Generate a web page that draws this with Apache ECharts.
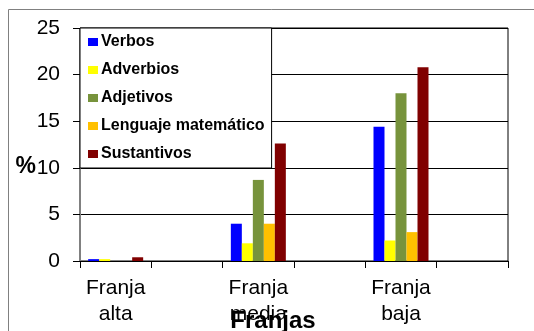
<!DOCTYPE html>
<html lang="es">
<head>
	<meta charset="UTF-8">
	<title>Franjas</title>
	<script src="https://cdn.jsdelivr.net/npm/echarts@6/dist/echarts.min.js"></script>
	<style>
		html,body{margin:0;padding:0;background:#fff;}
		#chart{width:534px;height:331px;}
	</style>
</head>
<body>
	<div id="chart"></div>
<script>
	// categorias (las vacias son huecos del grafico original)
	var categorias = ['Franja\nalta', '', 'Franja\nmedia', '', 'Franja\nbaja', ''];
	var verbos       = [0.2, null, 4.0, null, 14.4, null];
	var adverbios    = [0.2, null, 1.9, null, 2.2, null];
	var adjetivos    = [0,   null, 8.7, null, 18.0, null];
	var lenguajeMat  = [0,   null, 4.0, null, 3.1, null];
	var sustantivos  = [0.4, null, 12.6, null, 20.8, null];
	var yTicks = [0, 5, 10, 15, 20, 25];

	var nombres = ['Verbos', 'Adverbios', 'Adjetivos', 'Lenguaje matemático', 'Sustantivos'];
	var colores = ['#0000FF', '#FFFF00', '#77933C', '#FFC000', '#800000'];
	var datos = [verbos, adverbios, adjetivos, lenguajeMat, sustantivos];

	var myChart = echarts.init(document.getElementById('chart'));

	var series = [];
	for (var i = 0; i < nombres.length; i++) {
		series.push({
			name: nombres[i],
			type: 'bar',
			data: datos[i],
			barWidth: 11,
			barGap: '0%',
			itemStyle: {color: colores[i]},
			animation: false
		});
	}

	var options = {
		animation: false,
		graphic: [{
			type: 'rect',
			shape: {x: 8.5, y: 9.5, width: 600, height: 400},
			style: {fill: 'none', stroke: '#808080', lineWidth: 1},
			z: -1
		}],
		grid: {
			left: 80, right: 26, top: 28, bottom: 70,
			containLabel: false,
			outerBoundsMode: 'none',
			show: true, borderColor: '#000', borderWidth: 1
		},
		legend: {
			orient: 'vertical',
			left: 80, top: 28,
			data: nombres,
			icon: 'rect',
			itemWidth: 10, itemHeight: 8,
			itemGap: 12,
			padding: [6, 7, 6, 8],
			backgroundColor: '#fff',
			borderColor: '#000', borderWidth: 1,
			selectedMode: false,
			textStyle: {fontFamily: 'Liberation Sans', fontSize: 16, fontWeight: 'bold', color: '#000', padding: [0, 0, 0, -2]}
		},
		xAxis: {
			type: 'category',
			data: categorias,
			name: 'Franjas',
			nameLocation: 'middle',
			nameGap: 48,
			nameMoveOverlap: false,
			nameTextStyle: {fontFamily: 'Liberation Sans', fontSize: 24, fontWeight: 'bold', color: '#000', padding: [0, 42, 0, 0]},
			axisLine: {lineStyle: {color: '#000'}},
			axisTick: {show: true, length: 7, lineStyle: {color: '#000'}},
			axisLabel: {fontFamily: 'Liberation Sans', fontSize: 21, color: '#000', lineHeight: 26, margin: 14, interval: 0}
		},
		yAxis: {
			type: 'value',
			min: yTicks[0], max: yTicks[yTicks.length - 1], interval: 5,
			name: '%',
			nameLocation: 'middle',
			nameRotate: 0,
			nameGap: 44,
			nameMoveOverlap: false,
			nameTextStyle: {fontFamily: 'Liberation Sans', fontSize: 23, fontWeight: 'bold', color: '#000', verticalAlign: 'top', padding: [11, 0, 0, 0]},
			axisLine: {show: true, lineStyle: {color: '#808080'}},
			axisTick: {show: true, length: 7, lineStyle: {color: '#000'}},
			axisLabel: {fontFamily: 'Liberation Sans', fontSize: 21, color: '#000', margin: 20},
			splitLine: {lineStyle: {color: '#000', width: 1}}
		},
		series: series
	};
	myChart.setOption(options);
</script>
</body>
</html>
